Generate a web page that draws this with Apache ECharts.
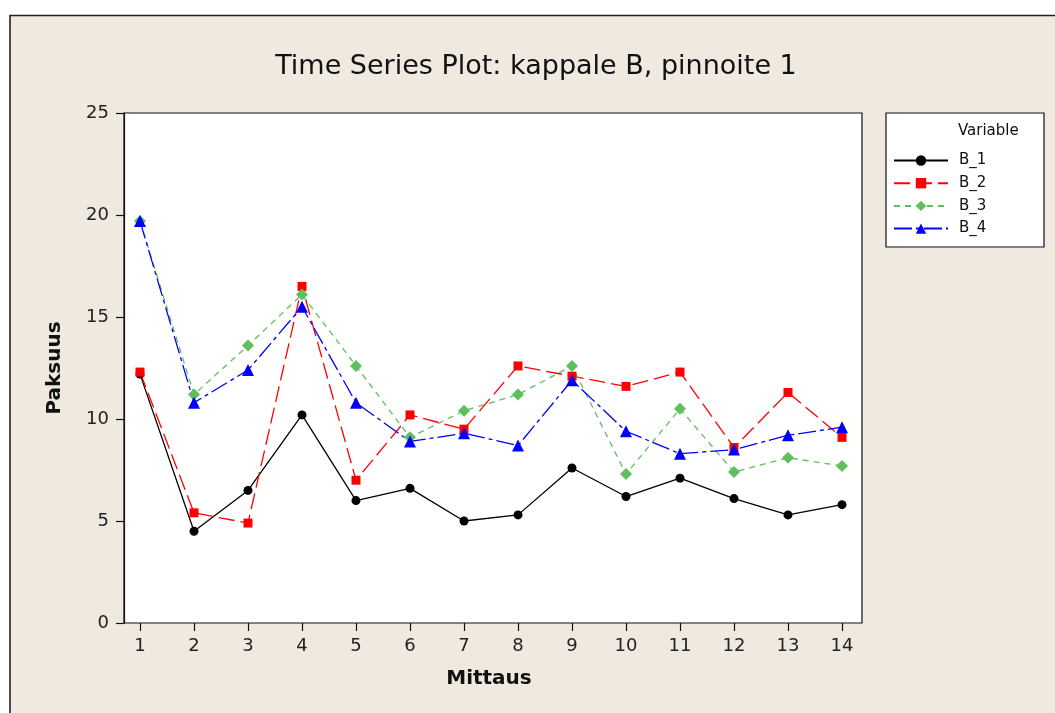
<!DOCTYPE html>
<html>
<head>
<meta charset="utf-8">
<script src="https://cdn.jsdelivr.net/npm/echarts@6/dist/echarts.min.js"></script>
<style>
  html, body { margin: 0; padding: 0; background: #ffffff; }
  #chart { width: 1055px; height: 713px; }
</style>
</head>
<body>
<div id="chart"></div>
<script>
// Thickness readings per measurement point
const categories = ['1', '2', '3', '4', '5', '6', '7', '8', '9', '10', '11', '12', '13', '14'];
const b1 = [12.2, 4.5, 6.5, 10.2, 6.0, 6.6, 5.0, 5.3, 7.6, 6.2, 7.1, 6.1, 5.3, 5.8];
const b2 = [12.3, 5.4, 4.9, 16.5, 7.0, 10.2, 9.5, 12.6, 12.1, 11.6, 12.3, 8.6, 11.3, 9.1];
const b3 = [19.7, 11.2, 13.6, 16.1, 12.6, 9.1, 10.4, 11.2, 12.6, 7.3, 10.5, 7.4, 8.1, 7.7];
const b4 = [19.7, 10.8, 12.4, 15.5, 10.8, 8.9, 9.3, 8.7, 11.9, 9.4, 8.3, 8.5, 9.2, 9.6];
const yTicks = [0, 5, 10, 15, 20, 25];

const FONT = 'DejaVu Sans';
const chart = echarts.init(document.getElementById('chart'), null, { renderer: 'canvas' });

function lineSeries(name, data, color, dash, symbol, size) {
  return {
    name: name,
    type: 'line',
    xAxisIndex: 1,
    yAxisIndex: 1,
    data: data,
    symbol: symbol,
    symbolSize: size,
    showAllSymbol: true,
    lineStyle: { color: color, width: 1.3, type: dash },
    itemStyle: { color: color },
    emphasis: { disabled: true }
  };
}

chart.setOption({
  animation: false,
  backgroundColor: '#ffffff',
  graphic: [
    {
      type: 'rect', z: -10, silent: true,
      shape: { x: 10, y: 15.5, width: 1060, height: 710 },
      style: { fill: '#efe9e0', stroke: '#222222', lineWidth: 1.6 }
    },
    {
      type: 'text', z: 10,
      style: {
        text: 'Time Series Plot: kappale B, pinnoite 1',
        x: 536, y: 67, textAlign: 'center', textVerticalAlign: 'middle',
        font: '27px "' + FONT + '"', fill: '#111111'
      }
    },
    {
      type: 'text', z: 10,
      style: {
        text: 'Mittaus', x: 489, y: 679, textAlign: 'center', textVerticalAlign: 'middle',
        font: 'bold 20px "' + FONT + '"', fill: '#111111'
      }
    },
    {
      type: 'text', z: 10, x: 55, y: 368, rotation: Math.PI / 2,
      style: {
        text: 'Paksuus', x: 0, y: 0, textAlign: 'center', textVerticalAlign: 'middle',
        font: 'bold 20px "' + FONT + '"', fill: '#111111'
      }
    },
    {
      type: 'rect', z: 1,
      shape: { x: 886, y: 113, width: 158, height: 134 },
      style: { fill: '#ffffff', stroke: '#111111', lineWidth: 1.2 }
    },
    {
      type: 'text', z: 10,
      style: {
        text: 'Variable', x: 958, y: 131, textAlign: 'left', textVerticalAlign: 'middle',
        font: '15px "' + FONT + '"', fill: '#111111'
      }
    }
  ],
  legend: {
    orient: 'vertical',
    left: 893,
    top: 153,
    padding: 0,
    itemWidth: 54,
    itemHeight: 13,
    itemGap: 7.7,
    z: 5,
    selectedMode: false,
    textStyle: { fontFamily: FONT, fontSize: 15, color: '#111111', lineHeight: 15, padding: [0, 0, 0, 6] },
    data: ['B_1', 'B_2', 'B_3', 'B_4']
  },
  grid: [
    {
      left: 124, top: 113, width: 738, height: 510,
      show: true, backgroundColor: '#ffffff', borderColor: '#111111', borderWidth: 1.2
    },
    { left: 140, top: 113, width: 702, height: 510 }
  ],
  xAxis: [
    { gridIndex: 0, type: 'value', min: 0, max: 1, show: false },
    {
      gridIndex: 1, type: 'category', data: categories, boundaryGap: false,
      axisLine: { show: false },
      axisTick: { show: true, length: 8, inside: false, alignWithLabel: true, lineStyle: { color: '#111111', width: 1.2 } },
      axisLabel: { interval: 0, margin: 14, fontFamily: FONT, fontSize: 18, color: '#222222' },
      splitLine: { show: false }
    }
  ],
  yAxis: [
    {
      gridIndex: 0, type: 'value', min: yTicks[0], max: yTicks[yTicks.length - 1], interval: 5,
      axisLine: { show: true, lineStyle: { color: '#111111', width: 1.2 } },
      axisTick: { show: true, length: 8, inside: false, lineStyle: { color: '#111111', width: 1.2 } },
      axisLabel: { margin: 15, fontFamily: FONT, fontSize: 18, color: '#222222' },
      splitLine: { show: false }
    },
    { gridIndex: 1, type: 'value', min: 0, max: 25, show: false }
  ],
  series: [
    lineSeries('B_1', b1, '#000000', 'solid', 'circle', 9),
    lineSeries('B_2', b2, '#ff0000', [16, 6], 'rect', 9),
    lineSeries('B_3', b3, '#5fbf5f', [6, 5], 'diamond', 12),
    lineSeries('B_4', b4, '#0000ff', [18, 4, 4, 4], 'triangle', 12)
  ]
});
</script>
</body>
</html>
